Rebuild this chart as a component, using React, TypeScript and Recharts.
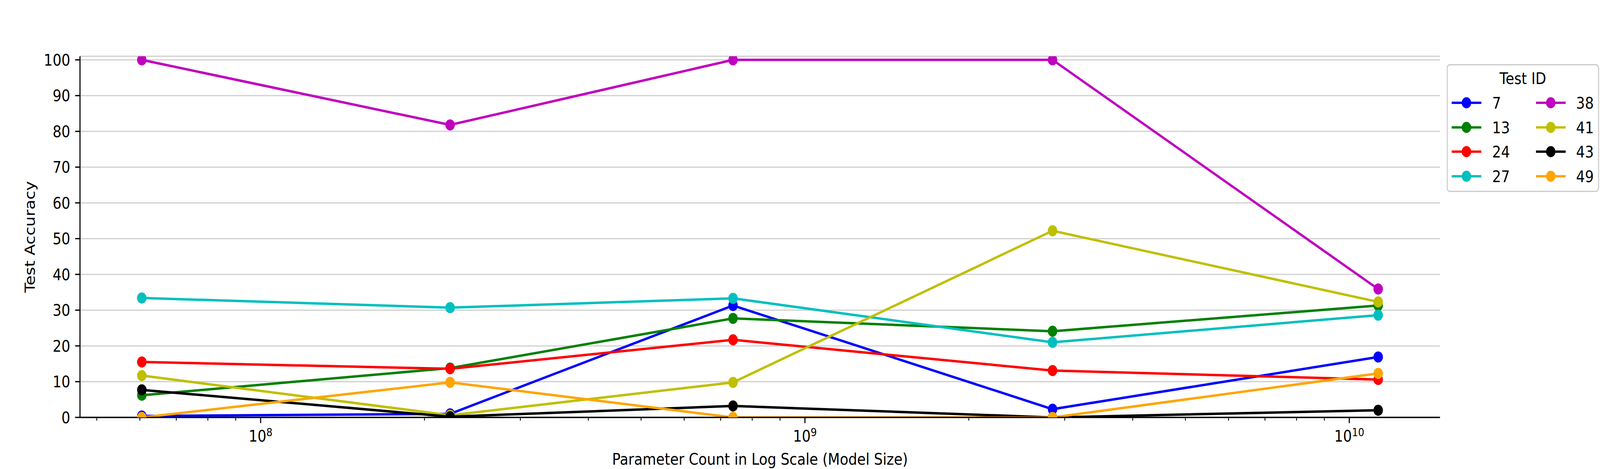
import React from "react";
import { LineChart, Line, XAxis, YAxis, CartesianGrid, Legend } from "recharts";

// model sizes (parameter count) on the x axis
const modelParams = [60.5e6, 222.9e6, 737.7e6, 2.85e9, 11.3e9];

const testIds = ["7", "13", "24", "27", "38", "41", "43", "49"];
const seriesColors = ["#0000ff", "#008000", "#ff0000", "#00bfbf", "#bf00bf", "#bfbf00", "#000000", "#ffa500"];

// test accuracy per test id, one value per model size
const test7 = [0.4, 1.0, 31.3, 2.3, 16.9];
const test13 = [6.2, 13.8, 27.7, 24.1, 31.3];
const test24 = [15.5, 13.6, 21.7, 13.1, 10.6];
const test27 = [33.4, 30.7, 33.3, 21.0, 28.6];
const test38 = [100, 81.8, 100, 100, 35.9];
const test41 = [11.7, 0.6, 9.8, 52.2, 32.3];
const test43 = [7.7, 0.2, 3.2, 0, 2.0];
const test49 = [0, 9.8, 0, 0, 12.3];

const seriesValues = [test7, test13, test24, test27, test38, test41, test43, test49];

const yTicks = [0, 10, 20, 30, 40, 50, 60, 70, 80, 90, 100];
const xMajorTicks = [1e8, 1e9, 1e10];
const xMinorTicks = [
  5e7, 6e7, 7e7, 8e7, 9e7,
  2e8, 3e8, 4e8, 5e8, 6e8, 7e8, 8e8, 9e8,
  2e9, 3e9, 4e9, 5e9, 6e9, 7e9, 8e9, 9e9,
];

const FONT = "DejaVu Sans";
const FS = 41.67;
const W = 4800;
const H = 1200;
const PLOT_LEFT = 240;
const PLOT_TOP = 144;
const PLOT_RIGHT = 4320;
const PLOT_BOTTOM = 1068;

// matplotlib-style 5% margin in log space
const logMin = Math.log10(Math.min(...modelParams));
const logMax = Math.log10(Math.max(...modelParams));
const pad = (logMax - logMin) * 0.05;
const xDomain = [Math.pow(10, logMin - pad), Math.pow(10, logMax + pad)];

const chartData = modelParams.map((p, i) => {
  const row: Record<string, number> = { params: p };
  testIds.forEach((id, k) => {
    row[`t${id}`] = seriesValues[k][i];
  });
  return row;
});

const LogTick = (props: any) => {
  const { x, y, payload } = props;
  const lg = Math.log10(payload.value);
  const exp = Math.round(lg);
  const major = Math.abs(lg - exp) < 1e-6;
  return (
    <g>
      <line
        x1={x}
        x2={x}
        y1={y}
        y2={y + (major ? 14.6 : 8.3)}
        stroke="#000"
        strokeWidth={major ? 3.3 : 2.5}
      />
      {major && (
        <text x={x} y={y + 62} textAnchor="middle" fontSize={FS} fontFamily={FONT} fill="#000">
          10
          <tspan dy={-14} fontSize={29.2}>
            {exp}
          </tspan>
        </text>
      )}
    </g>
  );
};

const makeDot = (color: string, id: string) => (props: any) => {
  const { cx, cy, index } = props;
  const key = `dot-${id}-${index}`;
  if (cx == null || cy == null) return <g key={key} />;
  // nested svg clips the marker to the plot area like matplotlib does
  return (
    <svg
      key={key}
      x={PLOT_LEFT}
      y={PLOT_TOP}
      width={PLOT_RIGHT - PLOT_LEFT}
      height={PLOT_BOTTOM - PLOT_TOP}
      overflow="hidden"
    >
      <circle cx={cx - PLOT_LEFT} cy={cy - PLOT_TOP} r={14.2} fill={color} />
    </svg>
  );
};

const LegendBox = () => {
  const rows = [99, 162, 224, 287];
  const cols = [
    { x1: 15, x2: 104, mx: 59.3, tx: 136.7 },
    { x1: 268, x2: 357, mx: 312.3, tx: 388.3 },
  ];
  return (
    <svg width={458} height={328} style={{ display: "block" }}>
      <rect x={1.65} y={1.65} width={454} height={324} rx={8} fill="#fff" fillOpacity={0.8} stroke="#cccccc" strokeWidth={3.3} />
      <text x={228.5} y={51} textAnchor="middle" fontSize={FS} fontFamily={FONT} fill="#000">
        Test ID
      </text>
      {testIds.map((id, i) => {
        const c = cols[Math.floor(i / 4)];
        const ry = rows[i % 4];
        const color = seriesColors[i];
        return (
          <g key={id}>
            <line x1={c.x1} x2={c.x2} y1={ry} y2={ry} stroke={color} strokeWidth={6} />
            <circle cx={c.mx} cy={ry} r={14.2} fill={color} />
            <text x={c.tx} y={ry + 15} fontSize={FS} fontFamily={FONT} fill="#000">
              {id}
            </text>
          </g>
        );
      })}
    </svg>
  );
};

export default function App() {
  // the browser viewport can be narrower than the 4800px figure; squeeze it to fit
  const vw = typeof window !== "undefined" ? window.innerWidth : W;
  const sx = Math.min(1, vw / W);
  return (
    <div
      style={{
        position: "absolute",
        left: 0,
        top: 0,
        width: W,
        height: H,
        background: "#fff",
        transform: `scale(${sx}, 1)`,
        transformOrigin: "0 0",
      }}
    >
      <LineChart
        width={W}
        height={H}
        data={chartData}
        margin={{ top: PLOT_TOP, right: W - PLOT_RIGHT, bottom: 0, left: 0 }}
      >
        <CartesianGrid vertical={false} stroke="#d3d3d3" strokeWidth={3.3} />
        <XAxis
          dataKey="params"
          type="number"
          scale="log"
          domain={xDomain}
          allowDataOverflow
          ticks={[...xMinorTicks, ...xMajorTicks]}
          interval={0}
          tick={<LogTick />}
          tickLine={false}
          tickSize={0}
          tickMargin={0}
          height={H - PLOT_BOTTOM}
          axisLine={{ stroke: "#000", strokeWidth: 3.3 }}
          label={{
            value: "Parameter Count in Log Scale (Model Size)",
            position: "insideBottom",
            offset: 11,
            fontSize: FS,
            fontFamily: FONT,
            fill: "#000",
          }}
        />
        <XAxis
          xAxisId="top"
          orientation="top"
          dataKey="params"
          type="number"
          scale="log"
          domain={xDomain}
          allowDataOverflow
          height={0}
          tick={false}
          tickLine={false}
          axisLine={{ stroke: "#000", strokeWidth: 3.3 }}
        />
        <YAxis
          domain={[0, 101]}
          allowDataOverflow
          ticks={yTicks}
          interval={0}
          width={PLOT_LEFT}
          tickSize={14.6}
          tickMargin={14.6}
          tickLine={{ stroke: "#000", strokeWidth: 3.3 }}
          axisLine={{ stroke: "#000", strokeWidth: 3.3 }}
          tick={{ fontSize: FS, fontFamily: FONT, fill: "#000" }}
          label={{
            value: "Test Accuracy",
            angle: -90,
            position: "center",
            dx: -30,
            fontSize: FS,
            fontFamily: FONT,
            fill: "#000",
          }}
        />
        <YAxis
          yAxisId="right"
          orientation="right"
          domain={[0, 101]}
          width={0}
          tick={false}
          tickLine={false}
          axisLine={{ stroke: "#000", strokeWidth: 3.3 }}
        />
        {testIds.map((id, k) => (
          <Line
            key={id}
            type="linear"
            dataKey={`t${id}`}
            name={id}
            stroke={seriesColors[k]}
            strokeWidth={6.25}
            dot={makeDot(seriesColors[k], id)}
            activeDot={false}
            isAnimationActive={false}
          />
        ))}
        <Legend
          layout="vertical"
          align="center"
          verticalAlign="middle"
          content={() => <LegendBox />}
          wrapperStyle={{ position: "absolute", left: 4340, top: 164, width: 458, height: 328, margin: 0 }}
        />
      </LineChart>
    </div>
  );
}
